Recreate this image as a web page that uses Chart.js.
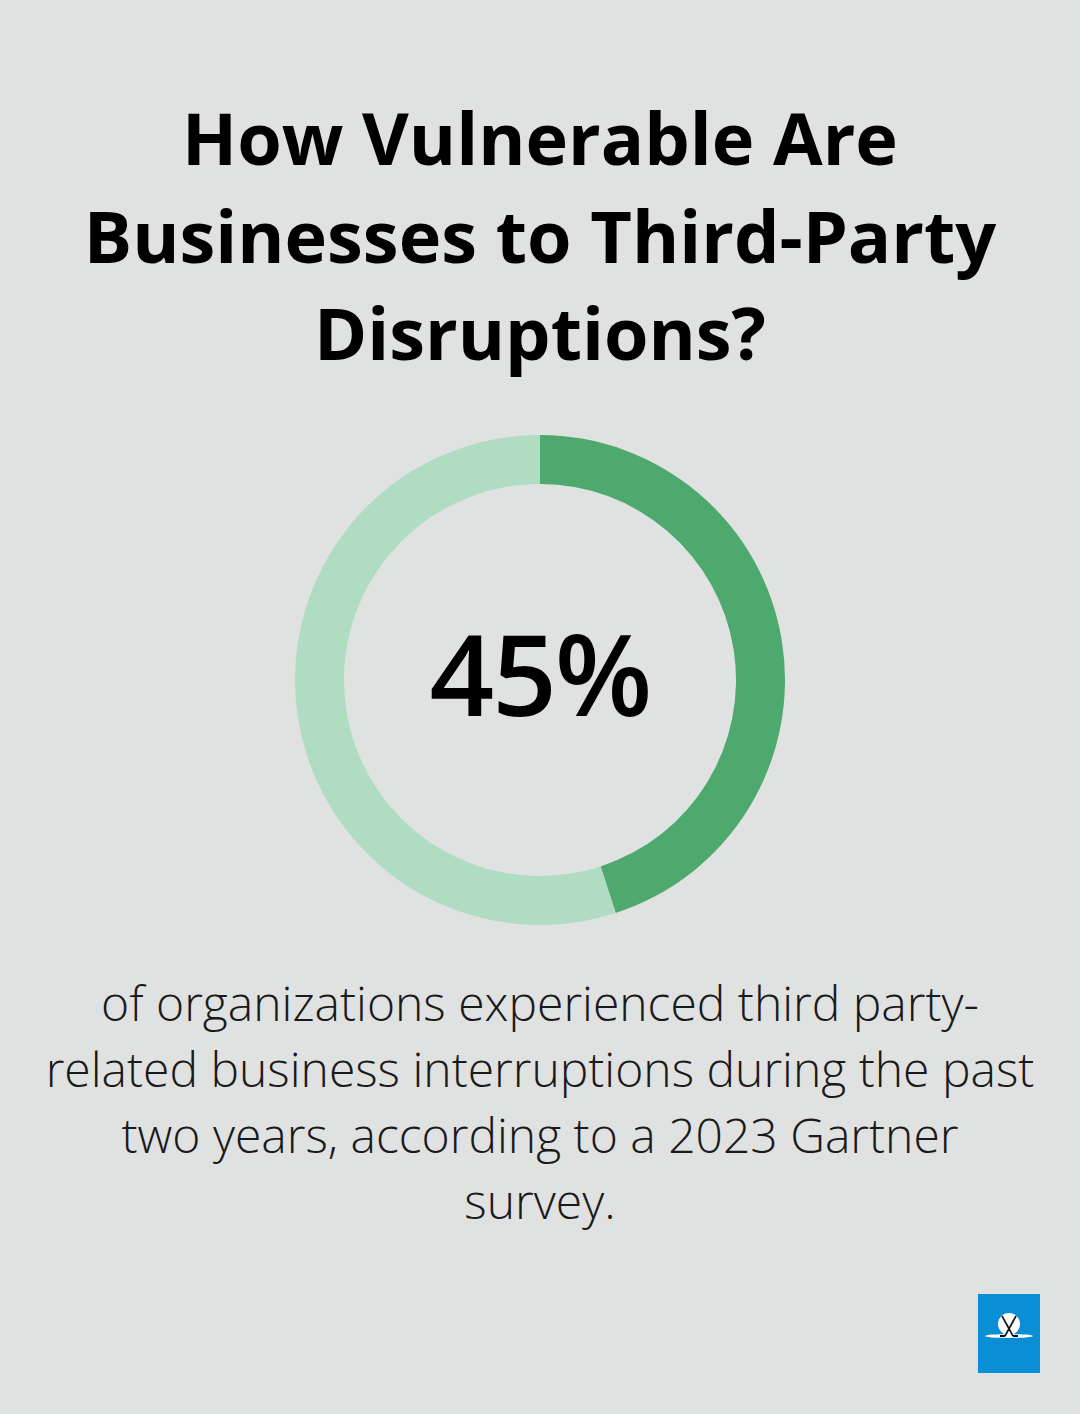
<!DOCTYPE html>
<html>
<head>
<meta charset="utf-8">
<script src="https://cdn.jsdelivr.net/npm/chart.js@4.4.0/dist/chart.umd.min.js"></script>
<style>
  html, body { margin: 0; padding: 0; }
  body {
    width: 1080px; height: 1414px; background: #e0e2e1;
    position: relative; overflow: hidden;
    font-family: "Open Sans", sans-serif; color: #000;
  }
  h1 {
    position: absolute; top: 89px; left: 0; width: 1080px; margin: 0;
    text-align: center; font-size: 72px; font-weight: 700; line-height: 97.5px;
  }
  #chartWrap { position: absolute; left: 295px; top: 435px; width: 490px; height: 490px; }
  #center {
    position: absolute; left: 0; top: -8px; width: 490px; height: 490px;
    display: flex; align-items: center; justify-content: center;
    font-size: 113px; font-weight: 600; letter-spacing: -2px;
  }
  #desc {
    position: absolute; top: 970px; left: 20px; width: 1040px; margin: 0;
    text-align: center; font-size: 48px; font-weight: 300; line-height: 66px; color: #1a1a1a;
  }
  #logo { position: absolute; left: 978px; top: 1294px; width: 62px; height: 79px; background: #0a8fd6; }
</style>
</head>
<body>
<h1>How Vulnerable Are<br>Businesses to Third-Party<br>Disruptions?</h1>
<div id="chartWrap">
  <canvas id="donut" width="490" height="490"></canvas>
  <div id="center">45%</div>
</div>
<p id="desc">of organizations experienced third party-<br>related business interruptions during the past<br>two years, according to a 2023 Gartner<br>survey.</p>
<div id="logo">
  <svg width="62" height="79" viewBox="0 0 62 79">
    <circle cx="31" cy="30" r="11" fill="#ffffff"/>
    <ellipse cx="31" cy="42" rx="24" ry="2" fill="#ffffff"/>
    <line x1="24" y1="22" x2="35" y2="42" stroke="#111" stroke-width="1.6"/>
    <line x1="38" y1="22" x2="27" y2="42" stroke="#111" stroke-width="1.6"/>
    <line x1="22" y1="42" x2="27" y2="42" stroke="#111" stroke-width="2"/>
    <line x1="35" y1="42" x2="40" y2="42" stroke="#111" stroke-width="2"/>
  </svg>
</div>
<script>
  const labels = ['Experienced interruptions', 'Did not'];
  const values = [45, 55];
  const colors = ['#4ea96f', '#b0dcc2'];

  const ctx = document.getElementById('donut').getContext('2d');
  new Chart(ctx, {
    type: 'doughnut',
    data: {
      labels: labels,
      datasets: [{
        data: values,
        backgroundColor: colors,
        borderWidth: 0,
        hoverOffset: 0
      }]
    },
    options: {
      responsive: false,
      animation: false,
      cutout: '80%',
      layout: { padding: 0 },
      plugins: {
        legend: { display: false },
        tooltip: { enabled: false }
      }
    }
  });
</script>
</body>
</html>
